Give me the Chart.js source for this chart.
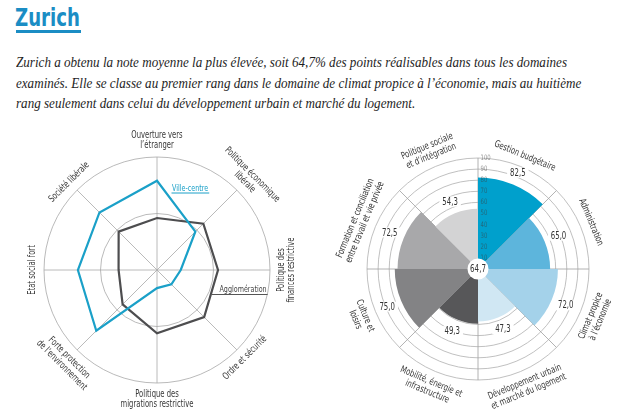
<!DOCTYPE html>
<html><head><meta charset="utf-8">
<script src="https://cdn.jsdelivr.net/npm/chart.js@4.4.0/dist/chart.umd.min.js"></script>
<style>
html,body{margin:0;padding:0;background:#fff;}
body{width:620px;height:418px;position:relative;overflow:hidden;}
#title{position:absolute;left:15px;top:3px;font-family:'DejaVu Sans Condensed','DejaVu Sans',sans-serif;font-weight:bold;font-size:25px;color:#1b8dc4;line-height:30px;white-space:nowrap;transform-origin:0 0;}
#uline{position:absolute;left:16px;top:30px;height:2.5px;width:65px;background:#1b8dc4;}
#para{position:absolute;left:16px;top:52px;font-family:'Liberation Serif','DejaVu Serif',serif;font-style:italic;font-size:14.5px;line-height:20.6px;color:#1e1e1e;white-space:nowrap;transform-origin:0 0;}
canvas{position:absolute;}
</style></head><body>
<div id="title"><span id="tt">Zurich</span></div>
<div id="uline"></div>
<div id="para"><span id="l1">Zurich a obtenu la note moyenne la plus élevée, soit 64,7% des points réalisables dans tous les domaines</span><br>examinés. Elle se classe au premier rang dans le domaine de climat propice à l’économie, mais au huitième<br>rang seulement dans celui du développement urbain et marché du logement.</div>
<canvas id="radar" width="314" height="298" style="left:0;top:120px"></canvas>
<canvas id="polar" width="300" height="298" style="left:320px;top:120px"></canvas>
<script>
// ---- data ----
const radarLabels = [
  ["Ouverture vers","l’étranger"],
  ["Politique économique","libérale"],
  ["Politique des","finances restrictive"],
  ["Ordre et sécurité"],
  ["Politique des","migrations restrictive"],
  ["Forte protection","de l’environnement"],
  ["Etat social fort"],
  ["Société libérale"]
];
const villeCentre   = [79, 48, 21, 18, 16, 76, 70, 72];
const agglomeration = [46, 58, 54, 59, 56, 43, 34, 48];
const seriesNames = ["Ville-centre", "Agglomération"];

const polarLabels = [
  ["Gestion budgétaire"],
  ["Administration"],
  ["Climat propice","à l’économie"],
  ["Développement urbain","et marché du logement"],
  ["Mobilité, énergie et","infrastructure"],
  ["Culture et","loisirs"],
  ["Formation et conciliation","entre travail et vie privée"],
  ["Politique sociale","et d’intégration"]
];
const polarValues = [82.5, 65.0, 72.0, 47.3, 49.3, 75.0, 72.5, 54.3];
const polarColors = ["#00a0cc","#5db5dc","#a4d2ea","#d0e7f3","#575759","#838385","#a8a8aa","#d3d3d4"];
const polarTicks = [10,20,30,40,50,60,70,80,90,100];
const averageScore = 64.7;

// ---- layout helpers ----
const para = document.getElementById('para');
const l1 = document.getElementById('l1');
para.style.transform = 'scaleX(' + (551 / l1.getBoundingClientRect().width) + ')';
const tt = document.getElementById('tt');
document.getElementById('title').style.transform = 'scaleX(' + (65 / tt.getBoundingClientRect().width) + ')';

const FAM = "'DejaVu Sans Condensed','DejaVu Sans',sans-serif";
const SX = 0.79; // horizontal squeeze to mimic a narrow typeface
const fmt = v => v.toFixed(1).replace('.', ',');
function textN(ctx, t, x, y) {
  ctx.save(); ctx.translate(x, y); ctx.scale(SX, 1); ctx.fillText(t, 0, 0); ctx.restore();
}
function widthN(ctx, t) { return ctx.measureText(t).width * SX; }

function drawRotLabels(chart, labels, offsetAngle) {
  const s = chart.scales.r, ctx = chart.ctx, lh = 10.5;
  ctx.save();
  ctx.font = "9.6px " + FAM; ctx.fillStyle = '#383838'; ctx.textAlign = 'center'; ctx.textBaseline = 'middle';
  labels.forEach((lines, i) => {
    const a = s.getIndexAngle(i) + offsetAngle;
    let deg = Math.round((a * 180 / Math.PI) * 1000) / 1000 % 360; if (deg < 0) deg += 360;
    const d = s.drawingArea + 6 + lines.length * lh / 2;
    const x = s.xCenter + d * Math.sin(a), y = s.yCenter - d * Math.cos(a);
    const rot = deg < 90 ? deg : (deg < 270 ? deg - 180 : deg - 360);
    ctx.save(); ctx.translate(x, y); ctx.rotate(rot * Math.PI / 180);
    lines.forEach((t, j) => textN(ctx, t, 0, (j - (lines.length - 1) / 2) * lh));
    ctx.restore();
  });
  ctx.restore();
}

const radarPlugin = {
  id: 'radarDeco',
  afterDatasetsDraw(chart) {
    drawRotLabels(chart, radarLabels, 0);
    const s = chart.scales.r, ctx = chart.ctx, xc = s.xCenter, yc = s.yCenter;
    ctx.save();
    ctx.font = "9px " + FAM;
    ctx.textBaseline = 'middle'; ctx.textAlign = 'left';
    // Ville-centre tag
    ctx.fillStyle = '#1aa0c8'; textN(ctx, seriesNames[0], xc + 15, yc - 81.5);
    let w = widthN(ctx, seriesNames[0]);
    ctx.strokeStyle = '#1aa0c8'; ctx.lineWidth = 1;
    ctx.beginPath(); ctx.moveTo(xc + 14.5, yc - 77); ctx.lineTo(xc + 16 + w, yc - 77); ctx.stroke();
    // Agglomération tag
    ctx.fillStyle = '#444'; textN(ctx, seriesNames[1], xc + 62.5, yc + 20);
    w = widthN(ctx, seriesNames[1]);
    ctx.strokeStyle = '#555';
    ctx.beginPath(); ctx.moveTo(xc + 55, yc + 24.5); ctx.lineTo(xc + 63.5 + w, yc + 24.5); ctx.stroke();
    ctx.restore();
  }
};

new Chart(document.getElementById('radar'), {
  type: 'radar',
  data: {
    labels: radarLabels.map(l => l.join(' ')),
    datasets: [
      { label: seriesNames[0], data: villeCentre, borderColor: '#1aa0c8', borderWidth: 2.2, fill: false, pointRadius: 0, tension: 0 },
      { label: seriesNames[1], data: agglomeration, borderColor: '#4d4d4f', borderWidth: 2.2, fill: false, pointRadius: 0, tension: 0 }
    ]
  },
  options: {
    responsive: false, animation: false, devicePixelRatio: 1,
    layout: { padding: { left: 44, right: 44, top: 37, bottom: 35 } },
    plugins: { legend: { display: false }, tooltip: { enabled: false } },
    elements: { line: { borderJoinStyle: 'miter' } },
    scales: { r: {
      min: 0, max: 100,
      ticks: { display: false, stepSize: 50 },
      grid: { circular: true, color: '#a8a8a8', lineWidth: 0.8 },
      angleLines: { display: true, color: '#a8a8a8', lineWidth: 0.8 },
      pointLabels: { display: false }
    } }
  },
  plugins: [radarPlugin]
});

const polarPlugin = {
  id: 'polarDeco',
  afterDatasetsDraw(chart) {
    const s = chart.scales.r, ctx = chart.ctx, xc = s.xCenter, yc = s.yCenter;
    drawRotLabels(chart, polarLabels, Math.PI / polarLabels.length);
    ctx.save();
    // tick labels along the vertical axis
    ctx.font = "7.5px " + FAM;
    ctx.textAlign = 'left'; ctx.textBaseline = 'middle'; ctx.fillStyle = 'rgba(60,60,60,0.55)';
    polarTicks.forEach(t => textN(ctx, String(t), xc + 2.5, yc - s.getDistanceFromCenterForValue(t)));
    // value labels
    ctx.font = "9.8px " + FAM;
    ctx.textAlign = 'center';
    polarValues.forEach((v, i) => {
      const a = s.getIndexAngle(i) + Math.PI / polarValues.length;
      const r = s.getDistanceFromCenterForValue(v);
      const d = r + 5 + Math.abs(Math.sin(a)) * 9 + Math.abs(Math.cos(a)) * 4.5;
      const x = xc + d * Math.sin(a), y = yc - d * Math.cos(a);
      const txt = fmt(v), w = widthN(ctx, txt);
      ctx.fillStyle = '#fff'; ctx.fillRect(x - w / 2 - 3, y - 5, w + 6, 10);
      ctx.fillStyle = '#333'; textN(ctx, txt, x, y + 0.5);
    });
    // centre average
    ctx.beginPath(); ctx.arc(xc, yc, 10.5, 0, Math.PI * 2); ctx.fillStyle = '#fff'; ctx.fill();
    ctx.font = "10px " + FAM;
    ctx.fillStyle = '#333'; textN(ctx, fmt(averageScore), xc, yc + 0.5);
    ctx.restore();
  }
};

new Chart(document.getElementById('polar'), {
  type: 'polarArea',
  data: {
    labels: polarLabels.map(l => l.join(' ')),
    datasets: [{ data: polarValues, backgroundColor: polarColors, borderWidth: 0 }]
  },
  options: {
    responsive: false, animation: false, devicePixelRatio: 1,
    layout: { padding: { left: 47, right: 31, top: 38, bottom: 38 } },
    plugins: { legend: { display: false }, tooltip: { enabled: false } },
    scales: { r: {
      min: 0, max: 100,
      ticks: { display: false, stepSize: 10 },
      grid: { circular: true, color: '#b0b0b0', lineWidth: 0.8 },
      angleLines: { display: true, color: '#a0a0a0', lineWidth: 0.8 },
      pointLabels: { display: false }
    } }
  },
  plugins: [polarPlugin]
});
</script>
</body></html>
